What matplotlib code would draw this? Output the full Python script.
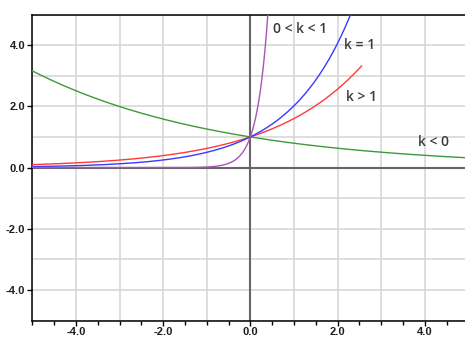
import numpy as np
import matplotlib
matplotlib.use("Agg")
import matplotlib.pyplot as plt

# Growth rates of y = exp(r * x) for each family member
labels = ["k < 0", "k > 1", "k = 1", "0 < k < 1"]
rates = [-0.23, 0.47, 0.70, 4.0]
x_end = [5.0, 2.55, 2.6, 0.5]
colors = ["#3c9a3c", "#ff3a3a", "#3a3aff", "#a855b5"]
label_pos = [(3.84, 0.82), (2.2, 2.32), (2.16, 4.0), (0.53, 4.53)]

x_ticks = [-4.0, -2.0, 0.0, 2.0, 4.0]
y_ticks = [-4.0, -2.0, 0.0, 2.0, 4.0]

W, H = 465, 338
fig = plt.figure(figsize=(W / 100, H / 100), dpi=100)
left, right, top, bottom = 32.3, 468.3, 14.5, 320.6
ax = fig.add_axes([left / W, 1 - bottom / H, (right - left) / W, (bottom - top) / H])
ax.set_xlim(-5, 5)
ax.set_ylim(-5, 5)

# light grid at every unit
for g in range(-5, 6):
    ax.axvline(g, color="#d4d4d4", lw=1.1, zorder=0)
    ax.axhline(g, color="#d4d4d4", lw=1.1, zorder=0)
ax.axvline(0, color="#666666", lw=1.5, zorder=1)
ax.axhline(0, color="#666666", lw=1.5, zorder=1)

for r, xe, c in zip(rates, x_end, colors):
    xs = np.linspace(-5, xe, 600)
    ax.plot(xs, np.exp(r * xs), color=c, lw=1.0, zorder=3, clip_on=True)

for (tx, ty), lab in zip(label_pos, labels):
    ax.text(tx, ty, lab, ha="left", va="center", fontsize=10,
            fontfamily="Open Sans", fontweight="semibold", color="#3a3a3a", zorder=4)

ax.set_xticks(x_ticks)
ax.set_xticks(np.arange(-5, 5.01, 0.5), minor=True)
ax.set_yticks(y_ticks)
ax.set_xticklabels([f"{v:.1f}" for v in x_ticks])
ax.set_yticklabels([f"{v:.1f}" for v in y_ticks])
ax.tick_params(axis="both", which="major", length=3.5, width=1.0, color="black",
               labelsize=8.0, labelcolor="#1e1e1e", pad=1.5)
ax.tick_params(axis="x", which="major", pad=1.0)
ax.tick_params(axis="x", which="minor", length=3.0, width=1.0, color="black")
for lab in ax.get_xticklabels() + ax.get_yticklabels():
    lab.set_fontweight("bold")
    lab.set_fontfamily("Liberation Sans")

for s in ["left", "bottom", "top"]:
    ax.spines[s].set_color("black")
    ax.spines[s].set_linewidth(1.1)
ax.spines["right"].set_visible(False)

fig.savefig("out.png", dpi=100)
